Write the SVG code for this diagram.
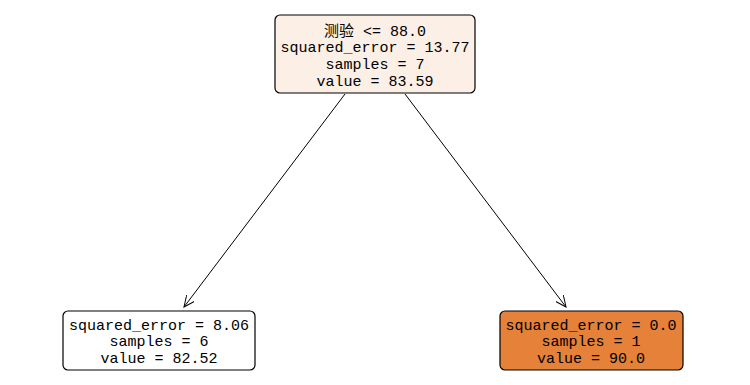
<svg xmlns="http://www.w3.org/2000/svg" width="750" height="385" viewBox="0 0 750 385">
<defs>
<style>
.box{stroke:#000;stroke-width:1.2}
text{font-family:"Liberation Mono","Noto Sans CJK SC",monospace;font-size:15px;text-anchor:middle;fill:#000}
.edge{stroke:#000;stroke-width:1;fill:none}
</style>
<marker id="arr" markerWidth="12" markerHeight="10" refX="11" refY="5" orient="auto" markerUnits="userSpaceOnUse">
<path d="M0,0 L11,5 L0,10" fill="none" stroke="#000" stroke-width="1"/>
</marker>
</defs>
<rect width="750" height="385" fill="#fff"/>
<g id="connectors">
<line class="edge" x1="345" y1="94" x2="184" y2="307" marker-end="url(#arr)"/>
<line class="edge" x1="405" y1="94" x2="566" y2="307" marker-end="url(#arr)"/>
</g>
<g id="root">
<rect class="box" x="275" y="15" width="200" height="78" rx="5" fill="#fcefe6"/>
<text x="375" y="36">测验 &lt;= 88.0</text>
<text x="375" y="52">squared_error = 13.77</text>
<text x="375" y="69">samples = 7</text>
<text x="375" y="86">value = 83.59</text>
</g>
<g id="left">
<rect class="box" x="63" y="311" width="192" height="59" rx="5" fill="#ffffff"/>
<text x="159" y="330">squared_error = 8.06</text>
<text x="159" y="346">samples = 6</text>
<text x="159" y="363">value = 82.52</text>
</g>
<g id="right">
<rect class="box" x="500" y="311" width="183" height="59" rx="5" fill="#e58139"/>
<text x="591" y="330">squared_error = 0.0</text>
<text x="591" y="346">samples = 1</text>
<text x="591" y="363">value = 90.0</text>
</g>
</svg>
